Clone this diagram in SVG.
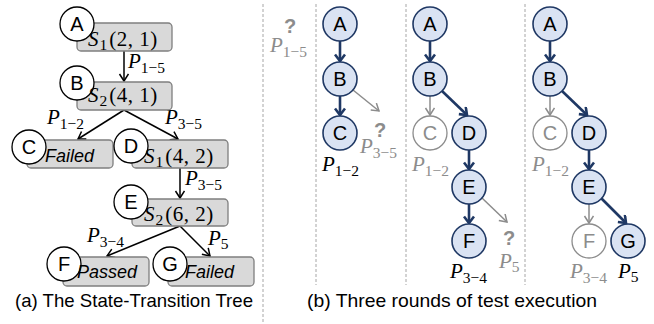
<svg xmlns="http://www.w3.org/2000/svg" width="654" height="324" viewBox="0 0 654 324">
<style>
.box{fill:#d9d9d9;stroke:#7f7f7f;stroke-width:1.3}
.wc{fill:#fff;stroke:#000;stroke-width:1.3}
.bc{fill:#dae3f3;stroke:#1f3864;stroke-width:1.6}
.gc{fill:#fff;stroke:#8c8c8c;stroke-width:1.3}
.lt{font-family:"Liberation Sans",Arial,sans-serif;font-size:20px;text-anchor:middle;fill:#000}
.glt{font-family:"Liberation Sans",Arial,sans-serif;font-size:20px;text-anchor:middle;fill:#8c8c8c}
.it{font-family:"Liberation Sans",Arial,sans-serif;font-size:18px;font-style:italic;fill:#000}
.m{font-family:"Liberation Serif","Times New Roman",serif;font-size:21px;fill:#000}
.gm{font-family:"Liberation Serif","Times New Roman",serif;font-size:21px;fill:#8c8c8c}
.i{font-style:italic}
.sub{font-size:15.5px}
.q{font-family:"Liberation Sans",Arial,sans-serif;font-size:20px;font-weight:bold;fill:#8c8c8c;text-anchor:middle}
.cap{font-family:"Liberation Sans",Arial,sans-serif;font-size:19px;fill:#000}
.sep{stroke:#a6a6a6;stroke-width:1;stroke-dasharray:3,2}
.ka{stroke:#000;stroke-width:1.5;fill:none;marker-end:url(#mk)}
.da{stroke:#1f3864;stroke-width:2.6;fill:none;marker-end:url(#md)}
.ga{stroke:#8c8c8c;stroke-width:1.5;fill:none;marker-end:url(#mg)}
</style>
<defs>
<marker id="mk" markerUnits="userSpaceOnUse" markerWidth="12" markerHeight="12" refX="8" refY="5" orient="auto"><path d="M1,0.5 L8,5 L1,9.5" fill="none" stroke="#000" stroke-width="1.5"/></marker>
<marker id="md" markerUnits="userSpaceOnUse" markerWidth="12" markerHeight="12" refX="8" refY="5.5" orient="auto"><path d="M1.5,0.5 L8,5.5 L1.5,10.5" fill="none" stroke="#1f3864" stroke-width="2.6"/></marker>
<marker id="mg" markerUnits="userSpaceOnUse" markerWidth="12" markerHeight="12" refX="8" refY="5" orient="auto"><path d="M1,0.5 L8,5 L1,9.5" fill="none" stroke="#8c8c8c" stroke-width="1.5"/></marker>
</defs>

<g id="separators">
<line class="sep" x1="263" y1="4" x2="263" y2="324"/>
<line class="sep" x1="316" y1="4" x2="316" y2="285"/>
<line class="sep" x1="406" y1="4" x2="406" y2="285"/>
<line class="sep" x1="525" y1="4" x2="525" y2="285"/>
</g>

<g id="connectors">
<line class="ka" x1="124" y1="51" x2="124" y2="81"/>
<line class="ka" x1="124" y1="110" x2="78" y2="139"/>
<line class="ka" x1="124" y1="110" x2="178" y2="139"/>
<line class="ka" x1="180" y1="168" x2="180" y2="198"/>
<line class="ka" x1="180" y1="226" x2="107" y2="256"/>
<line class="ka" x1="180" y1="226" x2="210" y2="256"/>

<line class="da" x1="340" y1="41" x2="340" y2="61"/>
<line class="da" x1="340" y1="96" x2="340" y2="115"/>
<line class="ga" x1="353" y1="90" x2="379" y2="111"/>

<line class="da" x1="430" y1="41" x2="430" y2="61"/>
<line class="ga" x1="430" y1="96" x2="430" y2="115"/>
<line class="da" x1="442" y1="91" x2="467" y2="115"/>
<line class="da" x1="469" y1="150" x2="469" y2="169"/>
<line class="da" x1="469" y1="204" x2="469" y2="223"/>
<line class="ga" x1="482" y1="198" x2="507" y2="222"/>

<line class="da" x1="550" y1="41" x2="550" y2="61"/>
<line class="ga" x1="550" y1="96" x2="550" y2="115"/>
<line class="da" x1="562" y1="91" x2="587" y2="115"/>
<line class="da" x1="589" y1="150" x2="589" y2="169"/>
<line class="ga" x1="589" y1="204" x2="589" y2="223"/>
<line class="da" x1="601" y1="198" x2="626" y2="223"/>
</g>

<g id="tree-labels">
<text class="m" x="128" y="68"><tspan class="i">P</tspan><tspan class="sub" dy="5">1−5</tspan></text>
<text class="m" x="47" y="124"><tspan class="i">P</tspan><tspan class="sub" dy="5">1−2</tspan></text>
<text class="m" x="165" y="124"><tspan class="i">P</tspan><tspan class="sub" dy="5">3−5</tspan></text>
<text class="m" x="185" y="185"><tspan class="i">P</tspan><tspan class="sub" dy="5">3−5</tspan></text>
<text class="m" x="87" y="242"><tspan class="i">P</tspan><tspan class="sub" dy="5">3−4</tspan></text>
<text class="m" x="208" y="245"><tspan class="i">P</tspan><tspan class="sub" dy="4">5</tspan></text>
</g>

<g id="tA"><rect class="box" x="77" y="23" width="95" height="28" rx="4"/><circle class="wc" cx="77" cy="24" r="17"/><text class="lt" x="77" y="31">A</text>
<text class="m" x="88" y="46"><tspan class="i">S</tspan><tspan class="sub" dx="1" dy="4">1</tspan><tspan dx="2" dy="-4" letter-spacing="0.5">(2, 1)</tspan></text></g>
<g id="tB"><rect class="box" x="77" y="82" width="95" height="28" rx="4"/><circle class="wc" cx="77" cy="83" r="17"/><text class="lt" x="77" y="90">B</text>
<text class="m" x="88" y="102"><tspan class="i">S</tspan><tspan class="sub" dx="1" dy="4">2</tspan><tspan dx="2" dy="-4" letter-spacing="0.5">(4, 1)</tspan></text></g>
<g id="tC"><rect class="box" x="27" y="140" width="86" height="28" rx="4"/><circle class="wc" cx="29" cy="147" r="17"/><text class="lt" x="29" y="154">C</text>
<text class="it" x="45" y="162">Failed</text></g>
<g id="tD"><rect class="box" x="132" y="140" width="96" height="28" rx="4"/><circle class="wc" cx="131" cy="146" r="17"/><text class="lt" x="131" y="153">D</text>
<text class="m" x="144" y="163"><tspan class="i">S</tspan><tspan class="sub" dx="1" dy="4">1</tspan><tspan dx="2" dy="-4" letter-spacing="0.5">(4, 2)</tspan></text></g>
<g id="tE"><rect class="box" x="132" y="199" width="96" height="27" rx="4"/><circle class="wc" cx="131" cy="202" r="17"/><text class="lt" x="131" y="209">E</text>
<text class="m" x="144" y="221"><tspan class="i">S</tspan><tspan class="sub" dx="1" dy="4">2</tspan><tspan dx="2" dy="-4" letter-spacing="0.5">(6, 2)</tspan></text></g>
<g id="tF"><rect class="box" x="63" y="257" width="86" height="29" rx="4"/><circle class="wc" cx="64" cy="264" r="17"/><text class="lt" x="64" y="271">F</text>
<text class="it" x="77" y="278">Passed</text></g>
<g id="tG"><rect class="box" x="168" y="257" width="86" height="29" rx="4"/><circle class="wc" cx="170" cy="264" r="17"/><text class="lt" x="170" y="271">G</text>
<text class="it" x="185" y="278">Failed</text></g>

<g id="round0">
<text class="q" x="290" y="33">?</text>
<text class="gm" x="270" y="52"><tspan class="i">P</tspan><tspan class="sub" dy="5">1−5</tspan></text>
</g>

<g id="r1A"><circle class="bc" cx="340" cy="24" r="17"/><text class="lt" x="340" y="31">A</text></g>
<g id="r1B"><circle class="bc" cx="340" cy="79" r="17"/><text class="lt" x="340" y="86">B</text></g>
<g id="r1C"><circle class="bc" cx="340" cy="133" r="17"/><text class="lt" x="340" y="140">C</text></g>
<g id="r1labels">
<text class="q" x="380" y="137">?</text>
<text class="gm" x="360" y="153"><tspan class="i">P</tspan><tspan class="sub" dy="5">3−5</tspan></text>
<text class="m" x="322" y="171"><tspan class="i">P</tspan><tspan class="sub" dy="5">1−2</tspan></text>
</g>

<g id="r2A"><circle class="bc" cx="430" cy="24" r="17"/><text class="lt" x="430" y="31">A</text></g>
<g id="r2B"><circle class="bc" cx="430" cy="79" r="17"/><text class="lt" x="430" y="86">B</text></g>
<g id="r2C"><circle class="gc" cx="430" cy="133" r="17"/><text class="glt" x="430" y="140">C</text></g>
<g id="r2D"><circle class="bc" cx="469" cy="133" r="17"/><text class="lt" x="469" y="140">D</text></g>
<g id="r2E"><circle class="bc" cx="469" cy="187" r="17"/><text class="lt" x="469" y="194">E</text></g>
<g id="r2F"><circle class="bc" cx="469" cy="241" r="17"/><text class="lt" x="469" y="248">F</text></g>
<g id="r2labels">
<text class="gm" x="412" y="171"><tspan class="i">P</tspan><tspan class="sub" dy="5">1−2</tspan></text>
<text class="q" x="509" y="245">?</text>
<text class="gm" x="499" y="268"><tspan class="i">P</tspan><tspan class="sub" dy="4">5</tspan></text>
<text class="m" x="450" y="278"><tspan class="i">P</tspan><tspan class="sub" dy="5">3−4</tspan></text>
</g>

<g id="r3A"><circle class="bc" cx="550" cy="24" r="17"/><text class="lt" x="550" y="31">A</text></g>
<g id="r3B"><circle class="bc" cx="550" cy="79" r="17"/><text class="lt" x="550" y="86">B</text></g>
<g id="r3C"><circle class="gc" cx="550" cy="133" r="17"/><text class="glt" x="550" y="140">C</text></g>
<g id="r3D"><circle class="bc" cx="589" cy="133" r="17"/><text class="lt" x="589" y="140">D</text></g>
<g id="r3E"><circle class="bc" cx="589" cy="187" r="17"/><text class="lt" x="589" y="194">E</text></g>
<g id="r3F"><circle class="gc" cx="589" cy="241" r="17"/><text class="glt" x="589" y="248">F</text></g>
<g id="r3G"><circle class="bc" cx="628" cy="241" r="17"/><text class="lt" x="628" y="248">G</text></g>
<g id="r3labels">
<text class="gm" x="532" y="171"><tspan class="i">P</tspan><tspan class="sub" dy="5">1−2</tspan></text>
<text class="gm" x="570" y="278"><tspan class="i">P</tspan><tspan class="sub" dy="5">3−4</tspan></text>
<text class="m" x="618" y="278"><tspan class="i">P</tspan><tspan class="sub" dy="4">5</tspan></text>
</g>

<g id="captions">
<text class="cap" x="15" y="307" textLength="238" lengthAdjust="spacingAndGlyphs">(a) The State-Transition Tree</text>
<text class="cap" x="307" y="307" textLength="290" lengthAdjust="spacingAndGlyphs">(b) Three rounds of test execution</text>
</g>
</svg>
